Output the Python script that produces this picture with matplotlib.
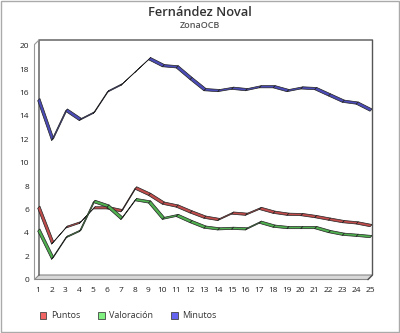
import numpy as np
import matplotlib.pyplot as plt
from matplotlib.patches import Polygon, Rectangle

plt.rcParams['font.family'] = ['Open Sans', 'DejaVu Sans']

jornadas = list(range(1, 26))
puntos = [6.1, 3.05, 4.4, 4.8, 6.05, 6.05, 5.8, 7.75, 7.2, 6.45, 6.2, 5.7, 5.25, 5.05, 5.6,
          5.5, 6.0, 5.67, 5.5, 5.47, 5.3, 5.08, 4.87, 4.76, 4.53]
valoracion = [4.15, 1.75, 3.55, 4.1, 6.6, 6.2, 5.15, 6.75, 6.55, 5.15, 5.4, 4.87, 4.4, 4.25, 4.3,
              4.25, 4.82, 4.48, 4.36, 4.36, 4.36, 4.02, 3.79, 3.7, 3.59]
minutos = [15.3, 11.9, 14.4, 13.6, 14.2, 16.0, 16.6, 17.7, 18.8, 18.2, 18.1, 17.1, 16.15, 16.07,
           16.27, 16.15, 16.4, 16.4, 16.07, 16.3, 16.24, 15.7, 15.16, 15.0, 14.4]
series = ['Puntos', 'Valoración', 'Minutos']
fills = ['#f06464', '#80f080', '#6464f0']
ribbons = ['#c04c4c', '#50b050', '#4c4cb8']

W, H = 400, 333
fig = plt.figure(figsize=(W / 100, H / 100), dpi=100)

# background frame drawn in pixel coordinates
bg = fig.add_axes([0, 0, 1, 1], zorder=0)
bg.set_xlim(0, W)
bg.set_ylim(H, 0)
bg.axis('off')
bg.add_patch(Rectangle((0.5, 0.5), W - 2, H - 2, fill=False, ec='#aaaaaa', lw=1))
d = 4.5
L, R, T, B = 34.5, 372.5, 40, 279.5
bg.add_patch(Polygon([(L, B), (R - d, B), (R, B - d), (L + d, B - d)], closed=True,
                     fc='#d8d8d8', ec='#888888', lw=0.8))
bg.plot([L + d, L + d, R, R, R - d], [B - d, T, T, B - d, B], color='#555555', lw=1)
bg.plot([L, L, L + d], [B, T + d, T], color='#999999', lw=0.8)

bg.text(W / 2, 12.5, 'Fernández Noval', ha='center', va='center', fontsize=9.3,
        fontweight='semibold', color='#333333')
bg.text(W / 2, 26, 'ZonaOCB', ha='center', va='center', fontsize=6.5,
        fontweight='semibold', color='#555555')

# main data axes
y0, y20 = 279.7, 45.7
ppu_y = (y0 - y20) / 20
x1, x25 = 37.7, 370.0
ppu_x = (x25 - x1) / 24
xl = 1 - (x1 - L) / ppu_x
xr = 25 + (R - x25) / ppu_x
ytop = (y0 - T) / ppu_y
ax = fig.add_axes([L / W, (H - y0) / H, (R - L) / W, (y0 - T) / H], zorder=1)
ax.patch.set_alpha(0)
ax.set_xlim(xl, xr)
ax.set_ylim(0, ytop)
for s in ax.spines.values():
    s.set_visible(False)
ax.set_yticks(range(0, 21, 2))
ax.set_xticks(jornadas)
ax.tick_params(length=0, labelsize=6, labelcolor='#222222')
ax.tick_params(axis='y', pad=4)
ax.tick_params(axis='x', pad=5)

# 3D ribbon lines
depth = (2.2, 2.2)  # pixels, right and up
dxd = depth[0] / ppu_x
dyd = depth[1] / ppu_y
for vals, fc in zip([puntos, valoracion, minutos], ribbons):
    for i in range(len(jornadas) - 1):
        xa, xb = jornadas[i], jornadas[i + 1]
        ya, yb = vals[i], vals[i + 1]
        poly = Polygon([(xa, ya), (xb, yb), (xb + dxd, yb + dyd), (xa + dxd, ya + dyd)],
                       closed=True, fc=fc, ec='#222222', lw=0.5, joinstyle='round')
        ax.add_patch(poly)

handles = [Rectangle((0, 0), 1, 1, fc=c, ec='#444444', lw=0.6) for c in fills]
fig.legend(handles, series, loc='center left', bbox_to_anchor=(32 / W, 1 - 316 / H), ncol=3,
           frameon=False, fontsize=6.5, handlelength=0.7, handleheight=0.7,
           handletextpad=0.5, columnspacing=2.0, labelcolor='#333333')

fig.savefig('out.png', dpi=100)
